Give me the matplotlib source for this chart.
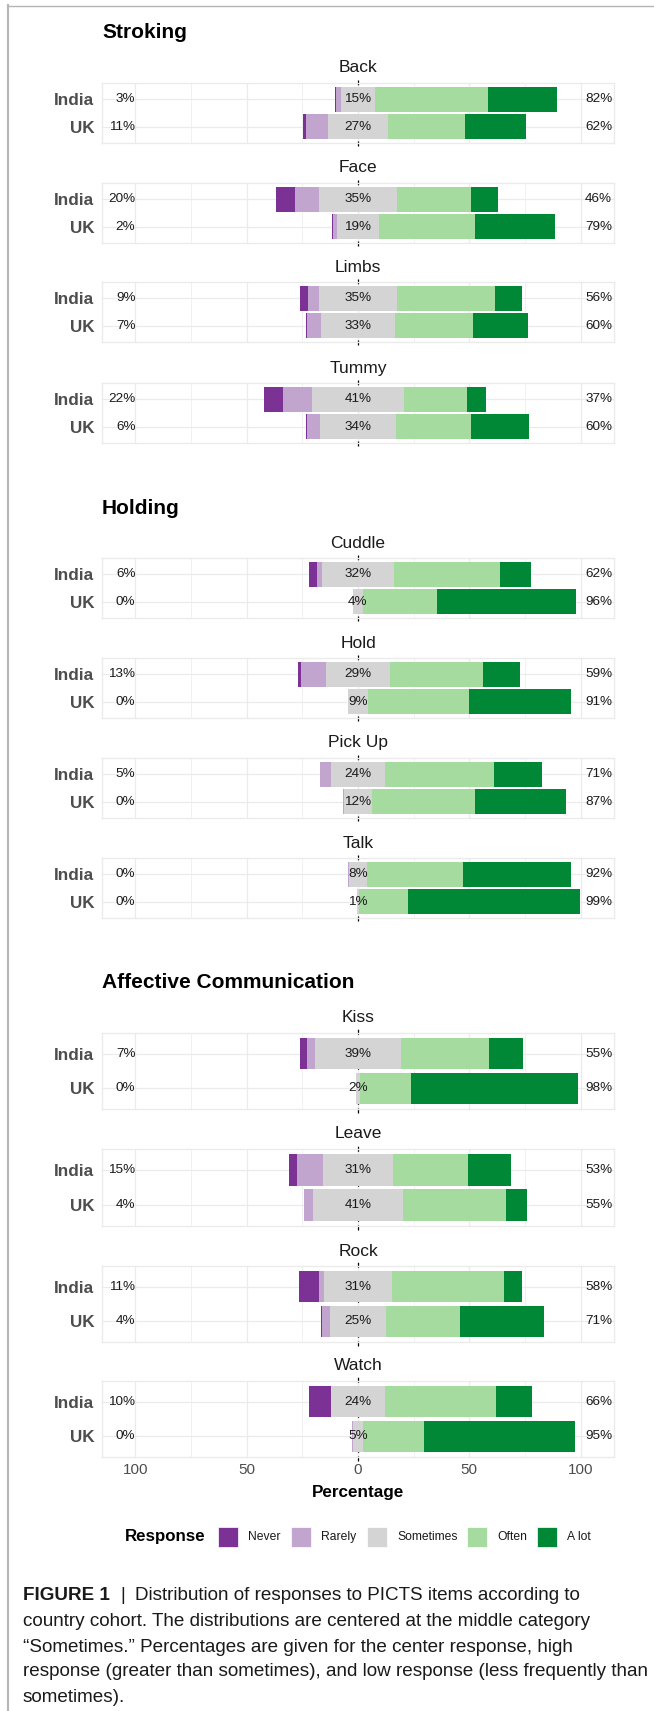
import matplotlib
matplotlib.use("Agg")
from matplotlib import pyplot as plt
from matplotlib.lines import Line2D
from matplotlib.patches import Rectangle
import numpy as np

plt.rcParams['font.family'] = ['Liberation Sans', 'DejaVu Sans']

# ---- data (percent of answers per response level) ----
groups = ["Stroking", "Holding", "Affective Communication"]
items = ["Back", "Face", "Limbs", "Tummy",
         "Cuddle", "Hold", "Pick Up", "Talk",
         "Kiss", "Leave", "Rock", "Watch"]
item_group = [0, 0, 0, 0, 1, 1, 1, 1, 2, 2, 2, 2]
countries = ["India", "UK"]
responses = ["Never", "Rarely", "Sometimes", "Often", "A lot"]
colors = ["#7B3294", "#C2A5CF", "#D4D4D4", "#A6DBA0", "#008837"]

never_india     = [0.8, 8.8, 3.6, 8.8, 3.6, 1.5, 0.0, 0.0, 3.0, 3.7, 9.2, 9.8]
rarely_india    = [2.2, 10.9, 5.2, 13.0, 2.5, 11.3, 5.2, 0.3, 3.8, 11.7, 2.0, 0.0]
sometimes_india = [15.0, 34.6, 34.8, 41.0, 32.0, 28.6, 24.0, 8.0, 38.6, 31.3, 30.6, 24.4]
often_india     = [51.0, 33.3, 44.0, 28.3, 47.7, 41.8, 49.2, 43.1, 39.6, 33.8, 50.4, 50.0]
alot_india      = [31.0, 12.4, 12.4, 8.9, 14.2, 16.8, 21.6, 48.6, 15.0, 19.5, 7.8, 15.8]

never_uk     = [1.0, 0.2, 0.5, 0.4, 0.0, 0.0, 0.0, 0.0, 0.0, 0.0, 0.4, 0.0]
rarely_uk    = [10.0, 1.9, 6.3, 5.9, 0.0, 0.0, 0.4, 0.0, 0.0, 3.8, 3.6, 0.2]
sometimes_uk = [27.0, 19.1, 33.3, 33.8, 4.2, 8.8, 12.4, 0.9, 2.2, 40.8, 24.8, 4.9]
often_uk     = [34.7, 42.8, 35.2, 34.0, 33.3, 45.3, 46.4, 21.9, 22.9, 45.9, 33.2, 27.2]
alot_uk      = [27.3, 36.0, 24.7, 25.9, 62.5, 45.9, 40.8, 77.2, 74.9, 9.5, 38.0, 67.7]

xticks = [-100, -50, 0, 50, 100]
xtick_labels = ["100", "50", "0", "50", "100"]

caption_lines = [
    "country cohort. The distributions are centered at the middle category",
    "\u201cSometimes.\u201d Percentages are given for the center response, high",
    "response (greater than sometimes), and low response (less frequently than",
    "sometimes).",
]

# ---- layout (pixels) ----
W, H = 654, 1711
fig = plt.figure(figsize=(W / 100, H / 100), dpi=100)
fig.patch.set_facecolor("white")

def fx(x):
    return x / W

def fy(y):
    return 1 - y / H

panel_left, panel_right = 102, 614
panel_tops = [83, 183, 282, 383, 558, 658, 758, 858, 1033, 1149, 1266, 1381]
panel_h = [60, 60, 60, 60, 60, 60, 60, 60, 76, 77, 76, 76]
group_title_y = [33, 508, 983]

# frame of the figure page
fig.add_artist(Line2D([fx(8), fx(8)], [fy(5), 0], color="#b5b5b5", lw=1.5))
fig.add_artist(Line2D([fx(8), 1], [fy(6), fy(6)], color="#b5b5b5", lw=1.0))

for g, name in enumerate(groups):
    fig.text(fx(panel_left), fy(group_title_y[g]), name, fontsize=15,
             fontweight="bold", ha="left", va="center", color="black")

grid_col = "#ebebeb"
india = [never_india, rarely_india, sometimes_india, often_india, alot_india]
uk = [never_uk, rarely_uk, sometimes_uk, often_uk, alot_uk]

def pct(v):
    return "%d%%" % int(v + 0.5)

for i, item in enumerate(items):
    top, h = panel_tops[i], panel_h[i]
    ax = fig.add_axes([fx(panel_left), fy(top + h), fx(panel_right - panel_left), h / H])
    ax.set_xlim(-115, 115)
    ax.set_ylim(-0.6, 1.6)
    ax.set_axisbelow(True)
    ax.set_xticks(xticks)
    ax.set_xticks([-75, -25, 25, 75], minor=True)
    ax.set_yticks([1, 0])
    ax.set_yticklabels(countries, fontsize=12.3, fontweight="bold", color="#4d4d4d")
    ax.grid(True, which="major", color=grid_col, lw=0.9)
    ax.grid(True, which="minor", axis="x", color=grid_col, lw=0.5)
    ax.tick_params(axis="both", which="both", length=0)
    ax.tick_params(axis="y", pad=5.5)
    for s in ax.spines.values():
        s.set_color(grid_col)
        s.set_linewidth(1.0)

    for row, data in ((1, india), (0, uk)):
        vals = [d[i] for d in data]
        start = -(vals[0] + vals[1] + vals[2] / 2)
        left = start
        for k in range(5):
            ax.barh(row, vals[k], left=left, height=0.9, color=colors[k],
                    linewidth=0, zorder=3)
            left += vals[k]
        ax.text(-100, row, pct(vals[0] + vals[1]), ha="right", va="center",
                fontsize=9.7, color="#1a1a1a", zorder=4)
        ax.text(0, row, pct(vals[2]), ha="center", va="center",
                fontsize=9.7, color="#1a1a1a", zorder=4)
        ax.text(102, row, pct(vals[3] + vals[4]), ha="left", va="center",
                fontsize=9.7, color="#1a1a1a", zorder=4)

    ax.plot([0, 0], [-0.72, 1.72], color="black", lw=0.9,
            linestyle=(0, (4, 3)), zorder=2, clip_on=False)

    if i == len(items) - 1:
        ax.set_xticklabels(xtick_labels, fontsize=11, color="#4d4d4d")
        ax.tick_params(axis="x", pad=4)
    else:
        ax.set_xticklabels([])

    ax.text(0.5, 1, "", transform=ax.transAxes)
    fig.text(fx((panel_left + panel_right) / 2), fy(top - 15), item,
             fontsize=12.5, ha="center", va="center", color="#1a1a1a")

fig.text(fx(358), fy(1493), "Percentage", fontsize=12.3, fontweight="bold",
         ha="center", va="center", color="black")

# legend
fig.text(fx(125), fy(1537), "Response", fontsize=12.2, fontweight="bold",
         ha="left", va="center", color="black")
key_x = [218, 291, 367, 467, 537]
for k, lab in enumerate(responses):
    fig.add_artist(Rectangle((fx(key_x[k]), fy(1547)), 20 / W, 20 / H,
                             transform=fig.transFigure, facecolor=colors[k],
                             edgecolor="white", lw=0.5))
    fig.text(fx(key_x[k] + 30), fy(1537), lab, fontsize=8.7,
             ha="left", va="center", color="#1a1a1a")

# caption
cap_size = 13.6
fig.text(fx(23), fy(1596), "FIGURE 1", fontsize=cap_size, fontweight="bold",
         ha="left", va="center", color="#1a1a1a")
fig.text(fx(120), fy(1596), "|", fontsize=cap_size, ha="left", va="center",
         color="#1a1a1a")
fig.text(fx(135), fy(1596), "Distribution of responses to PICTS items according to",
         fontsize=cap_size, ha="left", va="center", color="#1a1a1a")
cap_y = [1622, 1648, 1672, 1698]
for line, y in zip(caption_lines, cap_y):
    fig.text(fx(23), fy(y), line, fontsize=cap_size, ha="left", va="center",
             color="#1a1a1a")

fig.savefig("out.png", dpi=100)
